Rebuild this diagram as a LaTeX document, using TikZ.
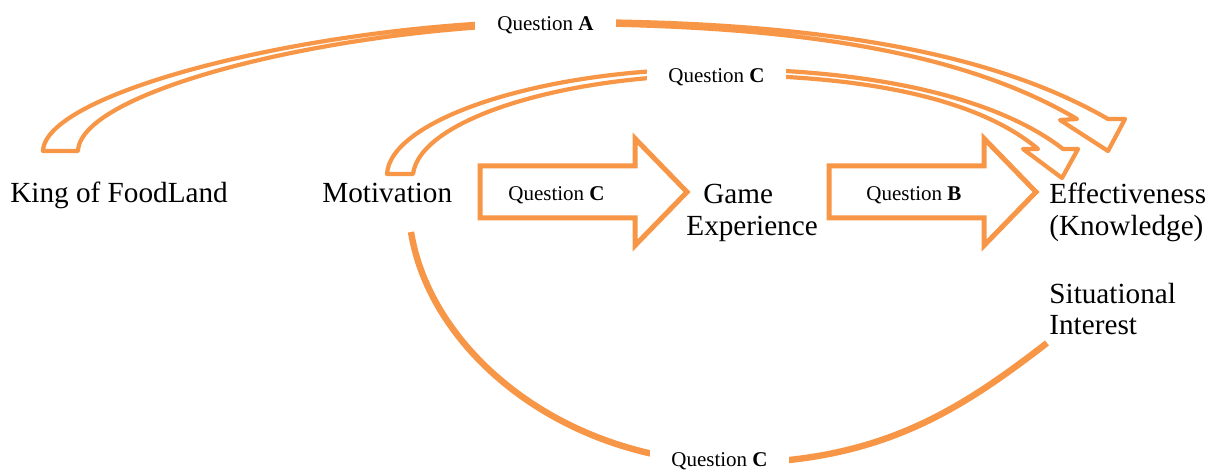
\documentclass[tikz,border=0pt]{standalone}
\usepackage{fontspec}
\setmainfont{Liberation Serif}
\usetikzlibrary{positioning}

\definecolor{accent}{HTML}{F79646}

\tikzset{
    fatarrow/.pic={
        \draw[blockline] (0,-26) -- (155,-26) -- (155,-53.5) -- (207,0)
            -- (155,53.5) -- (155,26) -- (0,26) -- cycle;
    }
}

\begin{document}
\begin{tikzpicture}[x=0.5pt, y=-0.5pt, every node/.style={inner sep=0pt},
    concept/.style={font=\fontsize{14.6}{16}\selectfont, align=left, anchor=base west},
    question/.style={font=\fontsize{10.5}{12}\selectfont, anchor=base west},
    gap/.style={question, fill=white, inner xsep=10.5pt, inner ysep=4pt},
    outline/.style={draw=accent, line width=2.1pt, line join=round, fill=white},
    blockline/.style={draw=accent, line width=2.5pt, line join=miter, fill=white},
    band/.style={draw=accent, line width=3.2pt}]
    \useasboundingbox (0,0) rectangle (1215,470);

    % hollow curved arrows
    \draw[outline] (43,151) .. controls (45,90) and (330,21) .. (560,21)
        .. controls (790,21) and (980,45) .. (1108,119)
        -- (1125,119) -- (1108,151) -- (1060,120) -- (1077,119)
        .. controls (960,50) and (790,25) .. (560,24)
        .. controls (340,26) and (80,90) .. (78,151) -- cycle;
    \draw[outline] (387,174) .. controls (390,120) and (540,69) .. (715,69)
        .. controls (880,69) and (1000,100) .. (1063,149)
        -- (1078,149) -- (1062,178) -- (1023,149) -- (1038,149)
        .. controls (980,100) and (870,75) .. (715,75)
        .. controls (560,76) and (420,120) .. (413,174) -- cycle;

    % block arrows
    \pic at (480,192) {fatarrow};
    \pic at (829,192) {fatarrow};

    % lower arc
    \draw[band] (411,232) .. controls (430,350) and (560,460) .. (730,463)
        .. controls (880,463) and (960,410) .. (1047,343);

    \node[concept] (king) at (10,203) {King of FoodLand};
    \node[concept] (motiv) at (322,203) {Motivation};
    \node[concept] (game) at (686,235) {\hspace*{8.5pt}Game\\Experience};
    \node[concept] (effect) at (1049,235) {Effectiveness\\(Knowledge)};
    \node[concept] (interest) at (1049,335) {Situational\\Interest};

    \node[gap, inner xsep=11pt] (qa) at (475,31) {Question \textbf{A}};
    \node[gap] (qctop) at (647,83) {Question \textbf{C}\hspace{10pt}};
    \node[question] (qcmid) at (508,201) {Question \textbf{C}};
    \node[question] (qb) at (866,201) {Question \textbf{B}};
    \node[gap] (qcbot) at (650,466) {Question \textbf{C}\hspace{10pt}};
\end{tikzpicture}
\end{document}
